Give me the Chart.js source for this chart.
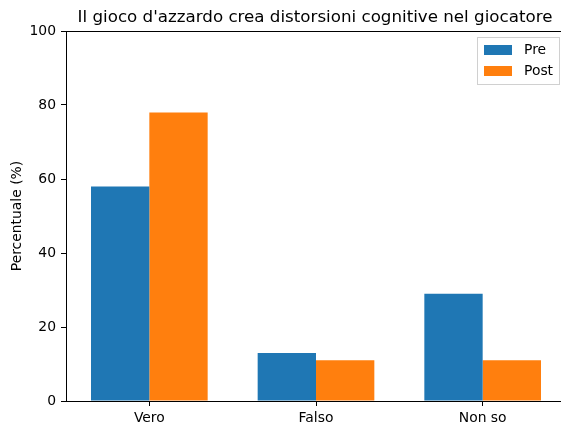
<!DOCTYPE html>
<html>
<head>
<meta charset="utf-8">
<script src="https://cdn.jsdelivr.net/npm/chart.js@4/dist/chart.umd.min.js"></script>
<style>
  html, body { margin: 0; padding: 0; background: #fff; overflow: hidden; }
  #wrap { width: 561px; height: 427px; overflow: hidden; }
</style>
</head>
<body>
<div id="wrap"><canvas id="chart" width="566" height="427"></canvas></div>
<script>
// chart data
const categories = ['Vero', 'Falso', 'Non so'];
const preValues = [58, 13, 29];
const postValues = [78, 11, 11];
const seriesLabels = ['Pre', 'Post'];
const yTicks = [0, 20, 40, 60, 80, 100];
const chartTitle = "Il gioco d'azzardo crea distorsioni cognitive nel giocatore";
const yLabel = 'Percentuale (%)';

const FONT = 'DejaVu Sans';

// title over the plot area, top spine and the legend box
// (the plot runs a few px past the visible 561px, like the cropped original)
const framePlugin = {
    id: 'frame',
    afterDraw(chart) {
        const ctx = chart.ctx;
        const a = chart.chartArea;
        const axRight = a.right - 2;
        ctx.save();
        ctx.strokeStyle = '#000';
        ctx.lineWidth = 1;
        ctx.beginPath();
        ctx.moveTo(a.left, a.top + 0.5);
        ctx.lineTo(a.right, a.top + 0.5);
        ctx.stroke();

        ctx.fillStyle = '#000';
        ctx.font = '16.7px "' + FONT + '"';
        ctx.textAlign = 'center';
        ctx.textBaseline = 'alphabetic';
        ctx.fillText(chartTitle, (a.left + axRight) / 2, a.top - 9);

        // legend
        const datasets = chart.data.datasets;
        const bw = 82, bh = 47;
        const bx = axRight - 5 - bw, by = a.top + 6;
        ctx.fillStyle = 'rgba(255,255,255,0.8)';
        ctx.fillRect(bx, by, bw, bh);
        ctx.strokeStyle = '#d0d0d0';
        ctx.strokeRect(bx + 0.5, by + 0.5, bw, bh);
        ctx.font = '13.9px "' + FONT + '"';
        ctx.textAlign = 'left';
        ctx.textBaseline = 'middle';
        datasets.forEach((ds, i) => {
            const cy = by + 13 + i * 21;
            ctx.fillStyle = ds.backgroundColor;
            ctx.fillRect(bx + 7, cy - 5, 28, 10);
            ctx.fillStyle = '#000';
            ctx.fillText(ds.label, bx + 47, cy);
        });
        ctx.restore();
    }
};

new Chart(document.getElementById('chart'), {
    type: 'bar',
    data: {
        labels: categories,
        datasets: [
            { label: seriesLabels[0], data: preValues, backgroundColor: '#1f77b4', borderWidth: 0 },
            { label: seriesLabels[1], data: postValues, backgroundColor: '#ff7f0e', borderWidth: 0 }
        ]
    },
    options: {
        responsive: false,
        animation: false,
        devicePixelRatio: 1,
        layout: { padding: { top: 31, right: 0, left: 0, bottom: 0 } },
        datasets: { bar: { categoryPercentage: 0.7, barPercentage: 1.0 } },
        plugins: {
            legend: { display: false },
            title: { display: false },
            tooltip: { enabled: false }
        },
        scales: {
            x: {
                offset: true,
                grid: { offset: false, drawOnChartArea: false, tickLength: 5, color: '#000', tickWidth: 1 },
                border: { color: '#000', width: 1 },
                ticks: { color: '#000', font: { family: FONT, size: 13.9 }, padding: 4 },
                afterFit(scale) { scale.height = 26; }
            },
            y: {
                min: 0,
                max: 100,
                afterBuildTicks(scale) { scale.ticks = yTicks.map(v => ({ value: v })); },
                grid: { drawOnChartArea: false, tickLength: 5, color: '#000', tickWidth: 1 },
                border: { color: '#000', width: 1 },
                ticks: { color: '#000', font: { family: FONT, size: 13.9 }, padding: 5 },
                title: { display: true, text: yLabel, color: '#000', font: { family: FONT, size: 13.9 }, padding: { top: 9, bottom: 0 } },
                afterFit(scale) { scale.width = 66; }
            }
        }
    },
    plugins: [framePlugin]
});
</script>
</body>
</html>
